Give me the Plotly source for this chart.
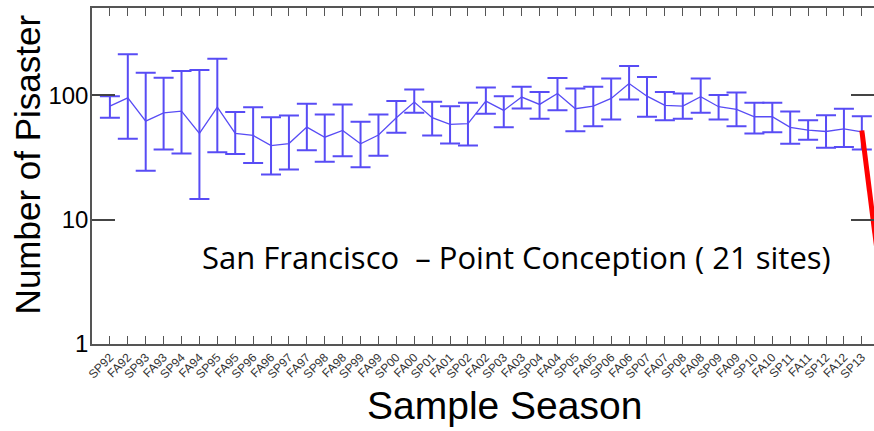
import plotly.graph_objects as go

seasons = ["SP92", "FA92", "SP93", "FA93", "SP94", "FA94", "SP95", "FA95", "SP96", "FA96",
           "SP97", "FA97", "SP98", "FA98", "SP99", "FA99", "SP00", "FA00", "SP01", "FA01",
           "SP02", "FA02", "SP03", "FA03", "SP04", "FA04", "SP05", "FA05", "SP06", "FA06",
           "SP07", "FA07", "SP08", "FA08", "SP09", "FA09", "SP10", "FA10", "SP11", "FA11",
           "SP12", "FA12", "SP13"]
mean = [81.5, 95, 61.8, 72.1, 74.3, 49.2, 80, 49.2, 47.4, 39.3,
        40.8, 55.3, 45.9, 52, 40.6, 47.8, 65.8, 87.9, 65.8, 58.1,
        58.9, 89.5, 75.3, 96.4, 84.2, 103, 77.7, 81.5, 94, 124,
        98, 82.6, 81.5, 97, 80.7, 76.7, 67, 67, 55, 52.3,
        51, 53.6, 50.7]
upper = [98, 213, 151, 138, 156, 159, 196, 73, 80, 66.5,
         68.7, 85.3, 69.9, 84.2, 61.1, 69.9, 89.5, 111, 88.5, 81.5,
         86.9, 115, 98, 117, 106, 137, 113, 117, 136, 171,
         140, 106, 103, 136, 100, 105, 86.9, 86.9, 74, 62.9,
         69, 77.7, 67.7]
lower = [65.8, 44.6, 24.7, 36.5, 33.9, 14.6, 34.7, 33.7, 28.5, 23,
         25.2, 36.1, 29.1, 32.3, 26.3, 32.5, 49.8, 72.1, 47.4, 40.8,
         39.3, 70.8, 55.3, 78.2, 64.6, 75.7, 51.3, 56.3, 63.7, 92.3,
         67, 62.9, 64.6, 72.1, 63.7, 56.3, 49.2, 50.4, 40.6, 43.7,
         37.7, 38.3, 36.5]
red_seasons = ["SP13", "FA13"]
red_values = [52, 3.8]

all_seasons = seasons + ["FA13"]
x_idx = list(range(len(seasons)))
red_x = [all_seasons.index(s) for s in red_seasons]

err_plus = [u - m for u, m in zip(upper, mean)]
err_minus = [m - l for m, l in zip(mean, lower)]

blue = "rgb(88,76,245)"

fig = go.Figure()
fig.add_trace(go.Scatter(
    x=x_idx, y=mean, mode="lines",
    line=dict(color=blue, width=1.3),
    error_y=dict(type="data", symmetric=False, array=err_plus, arrayminus=err_minus,
                 color=blue, thickness=2, width=10),
    showlegend=False, hoverinfo="skip",
))
fig.add_trace(go.Scatter(
    x=red_x, y=red_values, mode="lines",
    line=dict(color="rgb(255,0,0)", width=5),
    showlegend=False, hoverinfo="skip",
))

fig.update_layout(
    width=874, height=431,
    margin=dict(l=92, r=0, t=8, b=87),
    paper_bgcolor="white", plot_bgcolor="white",
    font=dict(family="Liberation Sans, Arial, sans-serif", color="black"),
    xaxis=dict(
        range=[-1, 42.68], automargin=False,
        tickmode="array", tickvals=x_idx, ticktext=seasons,
        tickangle=-45, tickfont=dict(size=12, color="#333333"),
        ticks="inside", ticklen=8, tickwidth=1.2, tickcolor="#555555",
        showline=True, linecolor="#555555", linewidth=1.5, mirror="ticks",
        showgrid=False, zeroline=False,
    ),
    yaxis=dict(
        type="log", range=[0, 2.70], automargin=False,
        tickmode="array", tickvals=[1, 10, 100], ticktext=["1", "10", "100"],
        tickfont=dict(size=24, color="black"), ticklabelstandoff=-3,
        ticks="inside", ticklen=23, tickwidth=1.5, tickcolor="#444444",
        showline=True, linecolor="#555555", linewidth=1.5, mirror="ticks",
        showgrid=False, zeroline=False,
    ),
    annotations=[
        dict(text="San Francisco\u00a0\u00a0– Point Conception (\u00a021 sites)",
             xref="paper", yref="paper", x=0.543, y=0.259,
             showarrow=False, font=dict(family="Open Sans, sans-serif", size=31, color="black"),
             xanchor="center", yanchor="middle"),
        dict(text="Sample Season", xref="paper", yref="paper", x=0.527, y=-0.183,
             showarrow=False, font=dict(size=39, color="black"),
             xanchor="center", yanchor="middle"),
        dict(text="Number of Pisaster", xref="paper", yref="paper", x=-0.0825, y=0.536,
             showarrow=False, textangle=-90, font=dict(size=35, color="black"),
             xanchor="center", yanchor="middle"),
    ],
)

fig.write_html("out.html", config={"displayModeBar": False},
               post_script="document.body.style.margin='0px';")
